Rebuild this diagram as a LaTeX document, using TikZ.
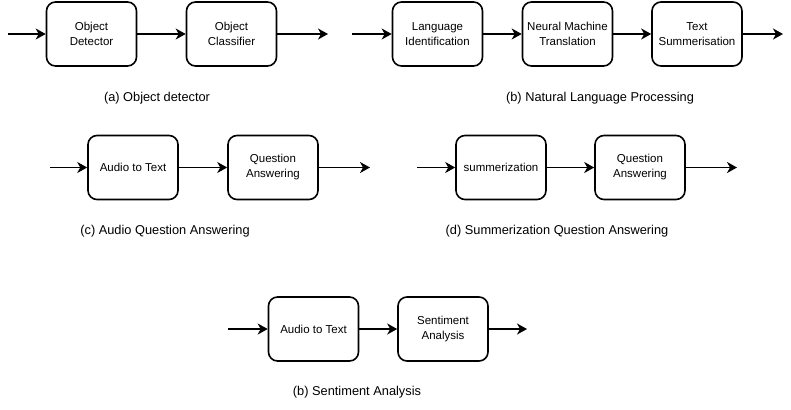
\documentclass[tikz,border=0pt]{standalone}
\usepackage{fontspec}
\setmainfont{Liberation Sans}
\usetikzlibrary{arrows.meta}
\begin{document}
\begin{tikzpicture}[x=1pt,y=-1pt]
            \tikzstyle{every node}+=[inner sep=0pt]
            \tikzstyle{block}=[draw=black, line width=1.6pt, rounded corners=9pt, minimum width=90pt, minimum height=64pt, align=center, font=\fontsize{11.5}{15}\selectfont]
            \tikzstyle{flow}=[black, line width=1.6pt, -{Stealth[length=10pt,width=11pt,inset=3pt]}]
            \tikzstyle{caption}=[font=\fontsize{12.8}{14}\selectfont]
            \useasboundingbox (0,0) rectangle (791,409);
            % (a) object detector
            \coordinate (ain) at (8,34);
            \coordinate (aout) at (328,34);
            \node [block] (objdet) at (91.5,34) {Object\\Detector};
            \node [block] (objcls) at (231.5,34) {Object\\Classifier};
            \draw [flow] (ain) -- (objdet);
            \draw [flow] (objdet) -- (objcls);
            \draw [flow] (objcls) -- (aout);
            \node [caption] (capa) at (157,98) {(a) Object detector};
            % (b) natural language processing
            \coordinate (bin) at (352,34);
            \coordinate (bout) at (783,34);
            \node [block] (langid) at (437.5,34) {Language\\Identification};
            \node [block] (nmt) at (567.5,34) {Neural Machine\\Translation};
            \node [block] (txtsum) at (697,34) {Text\\Summerisation};
            \draw [flow] (bin) -- (langid);
            \draw [flow] (langid) -- (nmt);
            \draw [flow] (nmt) -- (txtsum);
            \draw [flow] (txtsum) -- (bout);
            \node [caption] (capb) at (600,98) {(b) Natural Language Processing};
            % (c) audio question answering
            \coordinate (cin) at (50,167.5);
            \coordinate (cout) at (370,167.5);
            \node [block] (audtxt) at (133,167.5) {Audio to Text};
            \node [block] (qa) at (273,167.5) {Question\\Answering};
            \draw [flow] (cin) -- (audtxt);
            \draw [flow] (audtxt) -- (qa);
            \draw [flow] (qa) -- (cout);
            \node [caption] (capc) at (165,231) {(c) Audio Question Answering};
            % (d) summerization question answering
            \coordinate (din) at (417,167.5);
            \coordinate (dout) at (737,167.5);
            \node [block] (summ) at (501,167.5) {summerization};
            \node [block] (sumqa) at (640,167.5) {Question\\Answering};
            \draw [flow] (din) -- (summ);
            \draw [flow] (summ) -- (sumqa);
            \draw [flow] (sumqa) -- (dout);
            \node [caption] (capd) at (557,231) {(d) Summerization Question Answering};
            % (b) sentiment analysis
            \coordinate (ein) at (228,329);
            \coordinate (eout) at (527,329);
            \node [block] (senttxt) at (313.5,329) {Audio to Text};
            \node [block] (sent) at (443,329) {Sentiment\\Analysis};
            \draw [flow] (ein) -- (senttxt);
            \draw [flow] (senttxt) -- (sent);
            \draw [flow] (sent) -- (eout);
            \node [caption] (cape) at (357,392) {(b) Sentiment Analysis};
        \end{tikzpicture}
\end{document}
